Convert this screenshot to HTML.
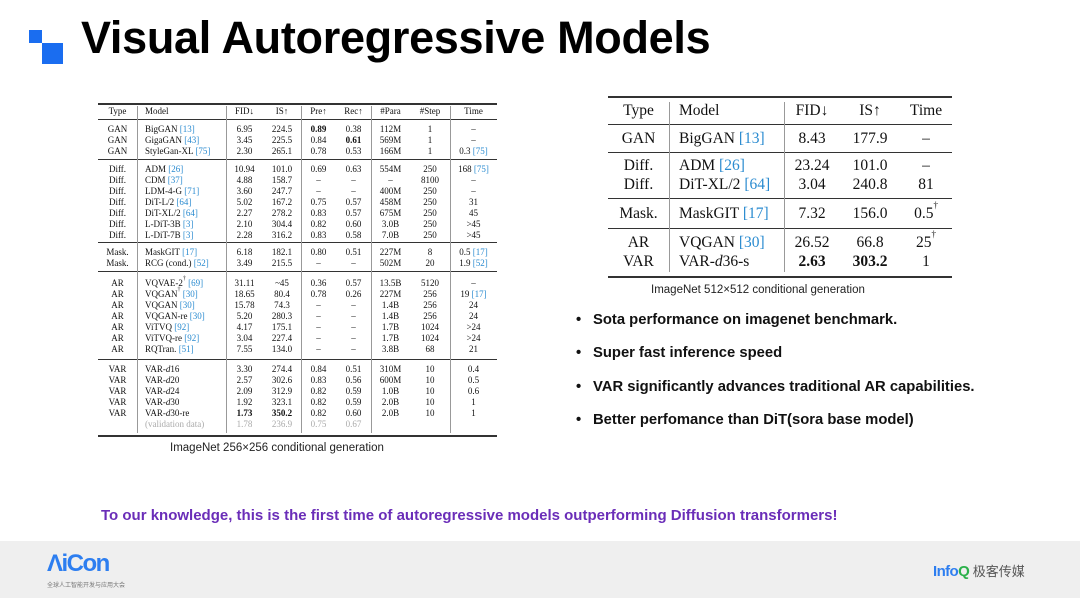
<!DOCTYPE html>
<html><head><meta charset="utf-8"><style>
*{margin:0;padding:0;box-sizing:border-box}
body{width:1080px;height:598px;background:#fff;position:relative;overflow:hidden;font-family:"Liberation Sans","Noto Sans CJK SC",sans-serif}
.a{position:absolute}
.t{font-family:"Liberation Serif",serif;font-size:9px;color:#111}
.r{position:absolute;left:0;height:11px;line-height:11px;width:1080px}
.r>span{position:absolute;white-space:nowrap}
.c1{left:98px;width:39px;text-align:center}
.c2{left:145px}
.c3{left:226px;width:37px;text-align:center}
.c4{left:263px;width:38px;text-align:center}
.c5{left:301px;width:35px;text-align:center}
.c6{left:336px;width:35px;text-align:center}
.c7{left:371px;width:39px;text-align:center}
.c8{left:410px;width:40px;text-align:center}
.c9{left:450px;width:47px;text-align:center}
.b{color:#2a8bd0}
sup{line-height:0;vertical-align:top;position:relative;top:0.1em}
.hl{position:absolute;background:#333;height:1px}
.vl{position:absolute;width:1px;background:#999}
.T{font-family:"Liberation Serif",serif;font-size:15.5px;color:#111}
.R{position:absolute;left:0;height:19px;line-height:19px;width:1080px}
.R>span{position:absolute;white-space:nowrap}
.d1{left:608px;width:61px;text-align:center}
.d2{left:679px}
.d3{left:784px;width:56px;text-align:center}
.d4{left:840px;width:60px;text-align:center}
.d5{left:900px;width:52px;text-align:center}
.bul{position:absolute;left:576px;font-size:14.8px;font-weight:bold;color:#111;white-space:nowrap}
.bul i{font-style:normal;display:inline-block;width:17px}
.g{color:#aaa}
</style></head><body>
<div class="a" style="left:29px;top:30px;width:13px;height:13px;background:#1a6df0"></div>
<div class="a" style="left:42px;top:43px;width:21px;height:21px;background:#1a6df0"></div>
<div class="a" style="left:81px;top:12px;font-size:45px;font-weight:bold;color:#000;white-space:nowrap;letter-spacing:-0.3px">Visual Autoregressive Models</div>

<div class="t">
<div class="hl" style="left:98px;top:103px;width:399px;height:1.5px"></div>
<div class="hl" style="left:98px;top:119px;width:399px"></div>
<div class="hl" style="left:98px;top:159px;width:399px"></div>
<div class="hl" style="left:98px;top:242px;width:399px"></div>
<div class="hl" style="left:98px;top:271px;width:399px"></div>
<div class="hl" style="left:98px;top:359px;width:399px"></div>
<div class="hl" style="left:98px;top:435px;width:399px;height:1.5px"></div>
<div class="vl" style="left:137px;top:106px;height:327px"></div>
<div class="vl" style="left:226px;top:106px;height:327px"></div>
<div class="vl" style="left:301px;top:106px;height:327px"></div>
<div class="vl" style="left:371px;top:106px;height:327px"></div>
<div class="vl" style="left:450px;top:106px;height:327px"></div>
<div class="r" style="top:106px"><span class="c1">Type</span><span class="c2">Model</span><span class="c3">FID↓</span><span class="c4">IS↑</span><span class="c5">Pre↑</span><span class="c6">Rec↑</span><span class="c7">#Para</span><span class="c8">#Step</span><span class="c9">Time</span></div>
<div class="r" style="top:124px"><span class="c1">GAN</span><span class="c2">BigGAN <span class="b">[13]</span></span><span class="c3">6.95</span><span class="c4">224.5</span><span class="c5"><b>0.89</b></span><span class="c6">0.38</span><span class="c7">112M</span><span class="c8">1</span><span class="c9">–</span></div>
<div class="r" style="top:135px"><span class="c1">GAN</span><span class="c2">GigaGAN <span class="b">[43]</span></span><span class="c3">3.45</span><span class="c4">225.5</span><span class="c5">0.84</span><span class="c6"><b>0.61</b></span><span class="c7">569M</span><span class="c8">1</span><span class="c9">–</span></div>
<div class="r" style="top:146px"><span class="c1">GAN</span><span class="c2">StyleGan-XL <span class="b">[75]</span></span><span class="c3">2.30</span><span class="c4">265.1</span><span class="c5">0.78</span><span class="c6">0.53</span><span class="c7">166M</span><span class="c8">1</span><span class="c9">0.3 <span class="b">[75]</span></span></div>
<div class="r" style="top:164px"><span class="c1">Diff.</span><span class="c2">ADM <span class="b">[26]</span></span><span class="c3">10.94</span><span class="c4">101.0</span><span class="c5">0.69</span><span class="c6">0.63</span><span class="c7">554M</span><span class="c8">250</span><span class="c9">168 <span class="b">[75]</span></span></div>
<div class="r" style="top:175px"><span class="c1">Diff.</span><span class="c2">CDM <span class="b">[37]</span></span><span class="c3">4.88</span><span class="c4">158.7</span><span class="c5">–</span><span class="c6">–</span><span class="c7">–</span><span class="c8">8100</span><span class="c9">–</span></div>
<div class="r" style="top:186px"><span class="c1">Diff.</span><span class="c2">LDM-4-G <span class="b">[71]</span></span><span class="c3">3.60</span><span class="c4">247.7</span><span class="c5">–</span><span class="c6">–</span><span class="c7">400M</span><span class="c8">250</span><span class="c9">–</span></div>
<div class="r" style="top:197px"><span class="c1">Diff.</span><span class="c2">DiT-L/2 <span class="b">[64]</span></span><span class="c3">5.02</span><span class="c4">167.2</span><span class="c5">0.75</span><span class="c6">0.57</span><span class="c7">458M</span><span class="c8">250</span><span class="c9">31</span></div>
<div class="r" style="top:208px"><span class="c1">Diff.</span><span class="c2">DiT-XL/2 <span class="b">[64]</span></span><span class="c3">2.27</span><span class="c4">278.2</span><span class="c5">0.83</span><span class="c6">0.57</span><span class="c7">675M</span><span class="c8">250</span><span class="c9">45</span></div>
<div class="r" style="top:219px"><span class="c1">Diff.</span><span class="c2">L-DiT-3B <span class="b">[3]</span></span><span class="c3">2.10</span><span class="c4">304.4</span><span class="c5">0.82</span><span class="c6">0.60</span><span class="c7">3.0B</span><span class="c8">250</span><span class="c9">&gt;45</span></div>
<div class="r" style="top:230px"><span class="c1">Diff.</span><span class="c2">L-DiT-7B <span class="b">[3]</span></span><span class="c3">2.28</span><span class="c4">316.2</span><span class="c5">0.83</span><span class="c6">0.58</span><span class="c7">7.0B</span><span class="c8">250</span><span class="c9">&gt;45</span></div>
<div class="r" style="top:247px"><span class="c1">Mask.</span><span class="c2">MaskGIT <span class="b">[17]</span></span><span class="c3">6.18</span><span class="c4">182.1</span><span class="c5">0.80</span><span class="c6">0.51</span><span class="c7">227M</span><span class="c8">8</span><span class="c9">0.5 <span class="b">[17]</span></span></div>
<div class="r" style="top:258px"><span class="c1">Mask.</span><span class="c2">RCG (cond.) <span class="b">[52]</span></span><span class="c3">3.49</span><span class="c4">215.5</span><span class="c5">–</span><span class="c6">–</span><span class="c7">502M</span><span class="c8">20</span><span class="c9">1.9 <span class="b">[52]</span></span></div>
<div class="r" style="top:278px"><span class="c1">AR</span><span class="c2">VQVAE-2<sup style="font-size:6px">†</sup> <span class="b">[69]</span></span><span class="c3">31.11</span><span class="c4">~45</span><span class="c5">0.36</span><span class="c6">0.57</span><span class="c7">13.5B</span><span class="c8">5120</span><span class="c9">–</span></div>
<div class="r" style="top:289px"><span class="c1">AR</span><span class="c2">VQGAN<sup style="font-size:6px">†</sup> <span class="b">[30]</span></span><span class="c3">18.65</span><span class="c4">80.4</span><span class="c5">0.78</span><span class="c6">0.26</span><span class="c7">227M</span><span class="c8">256</span><span class="c9">19 <span class="b">[17]</span></span></div>
<div class="r" style="top:300px"><span class="c1">AR</span><span class="c2">VQGAN <span class="b">[30]</span></span><span class="c3">15.78</span><span class="c4">74.3</span><span class="c5">–</span><span class="c6">–</span><span class="c7">1.4B</span><span class="c8">256</span><span class="c9">24</span></div>
<div class="r" style="top:311px"><span class="c1">AR</span><span class="c2">VQGAN-re <span class="b">[30]</span></span><span class="c3">5.20</span><span class="c4">280.3</span><span class="c5">–</span><span class="c6">–</span><span class="c7">1.4B</span><span class="c8">256</span><span class="c9">24</span></div>
<div class="r" style="top:322px"><span class="c1">AR</span><span class="c2">ViTVQ <span class="b">[92]</span></span><span class="c3">4.17</span><span class="c4">175.1</span><span class="c5">–</span><span class="c6">–</span><span class="c7">1.7B</span><span class="c8">1024</span><span class="c9">&gt;24</span></div>
<div class="r" style="top:333px"><span class="c1">AR</span><span class="c2">ViTVQ-re <span class="b">[92]</span></span><span class="c3">3.04</span><span class="c4">227.4</span><span class="c5">–</span><span class="c6">–</span><span class="c7">1.7B</span><span class="c8">1024</span><span class="c9">&gt;24</span></div>
<div class="r" style="top:344px"><span class="c1">AR</span><span class="c2">RQTran. <span class="b">[51]</span></span><span class="c3">7.55</span><span class="c4">134.0</span><span class="c5">–</span><span class="c6">–</span><span class="c7">3.8B</span><span class="c8">68</span><span class="c9">21</span></div>
<div class="r" style="top:364px"><span class="c1">VAR</span><span class="c2">VAR-<i>d</i>16</span><span class="c3">3.30</span><span class="c4">274.4</span><span class="c5">0.84</span><span class="c6">0.51</span><span class="c7">310M</span><span class="c8">10</span><span class="c9">0.4</span></div>
<div class="r" style="top:375px"><span class="c1">VAR</span><span class="c2">VAR-<i>d</i>20</span><span class="c3">2.57</span><span class="c4">302.6</span><span class="c5">0.83</span><span class="c6">0.56</span><span class="c7">600M</span><span class="c8">10</span><span class="c9">0.5</span></div>
<div class="r" style="top:386px"><span class="c1">VAR</span><span class="c2">VAR-<i>d</i>24</span><span class="c3">2.09</span><span class="c4">312.9</span><span class="c5">0.82</span><span class="c6">0.59</span><span class="c7">1.0B</span><span class="c8">10</span><span class="c9">0.6</span></div>
<div class="r" style="top:397px"><span class="c1">VAR</span><span class="c2">VAR-<i>d</i>30</span><span class="c3">1.92</span><span class="c4">323.1</span><span class="c5">0.82</span><span class="c6">0.59</span><span class="c7">2.0B</span><span class="c8">10</span><span class="c9">1</span></div>
<div class="r" style="top:408px"><span class="c1">VAR</span><span class="c2">VAR-<i>d</i>30-re</span><span class="c3"><b>1.73</b></span><span class="c4"><b>350.2</b></span><span class="c5">0.82</span><span class="c6">0.60</span><span class="c7">2.0B</span><span class="c8">10</span><span class="c9">1</span></div>
<div class="r g" style="top:419px"><span class="c2">(validation data)</span><span class="c3">1.78</span><span class="c4">236.9</span><span class="c5">0.75</span><span class="c6">0.67</span></div>
</div>
<div class="a" style="left:170px;top:442px;font-size:11.5px;color:#222;white-space:nowrap">ImageNet 256×256 conditional generation</div>

<div class="T">
<div class="hl" style="left:608px;top:96px;width:344px;height:1.5px"></div>
<div class="hl" style="left:608px;top:124px;width:344px"></div>
<div class="hl" style="left:608px;top:152px;width:344px"></div>
<div class="hl" style="left:608px;top:198px;width:344px"></div>
<div class="hl" style="left:608px;top:228px;width:344px"></div>
<div class="hl" style="left:608px;top:276px;width:344px;height:1.5px"></div>
<div class="vl" style="left:669px;top:102px;height:170px"></div>
<div class="vl" style="left:784px;top:102px;height:170px"></div>
<div class="R" style="top:101px"><span class="d1">Type</span><span class="d2">Model</span><span class="d3">FID↓</span><span class="d4">IS↑</span><span class="d5">Time</span></div>
<div class="R" style="top:129px"><span class="d1">GAN</span><span class="d2">BigGAN <span class="b">[13]</span></span><span class="d3">8.43</span><span class="d4">177.9</span><span class="d5">–</span></div>
<div class="R" style="top:156px"><span class="d1">Diff.</span><span class="d2">ADM <span class="b">[26]</span></span><span class="d3">23.24</span><span class="d4">101.0</span><span class="d5">–</span></div>
<div class="R" style="top:175px"><span class="d1">Diff.</span><span class="d2">DiT-XL/2 <span class="b">[64]</span></span><span class="d3">3.04</span><span class="d4">240.8</span><span class="d5">81</span></div>
<div class="R" style="top:204px"><span class="d1">Mask.</span><span class="d2">MaskGIT <span class="b">[17]</span></span><span class="d3">7.32</span><span class="d4">156.0</span><span class="d5">0.5<sup style="font-size:9px">†</sup></span></div>
<div class="R" style="top:233px"><span class="d1">AR</span><span class="d2">VQGAN <span class="b">[30]</span></span><span class="d3">26.52</span><span class="d4">66.8</span><span class="d5">25<sup style="font-size:9px">†</sup></span></div>
<div class="R" style="top:252px"><span class="d1">VAR</span><span class="d2">VAR-<i>d</i>36-s</span><span class="d3"><b>2.63</b></span><span class="d4"><b>303.2</b></span><span class="d5">1</span></div>
</div>
<div class="a" style="left:651px;top:284px;font-size:11.5px;color:#222;white-space:nowrap">ImageNet 512×512 conditional generation</div>

<div class="bul" style="top:312px"><i>•</i>Sota performance on imagenet benchmark.</div>
<div class="bul" style="top:345px"><i>•</i>Super fast inference speed</div>
<div class="bul" style="top:379px"><i>•</i>VAR significantly advances traditional AR capabilities.</div>
<div class="bul" style="top:412px"><i>•</i>Better perfomance than DiT(sora base model)</div>

<div class="a" style="left:101px;top:507px;font-size:15px;font-weight:bold;color:#6a2db8;white-space:nowrap">To our knowledge, this is the first time of autoregressive models outperforming Diffusion transformers!</div>

<div class="a" style="left:0;top:541px;width:1080px;height:57px;background:#efefef"></div>
<div class="a" style="left:47px;top:550px;font-size:24px;font-weight:bold;color:#2d7ef0;letter-spacing:-1.5px;line-height:28px">ΛiCon</div>
<div class="a" style="left:47px;top:580px;font-size:6px;color:#777;white-space:nowrap">全球人工智能开发与应用大会</div>
<div class="a" style="left:933px;top:561px;font-size:15px;font-weight:bold;color:#2d7ef0;white-space:nowrap;letter-spacing:-0.6px">Info<span style="color:#2bb14a">Q</span> <span style="color:#555;font-weight:normal;font-size:13px;letter-spacing:0">极客传媒</span></div>
</body></html>
